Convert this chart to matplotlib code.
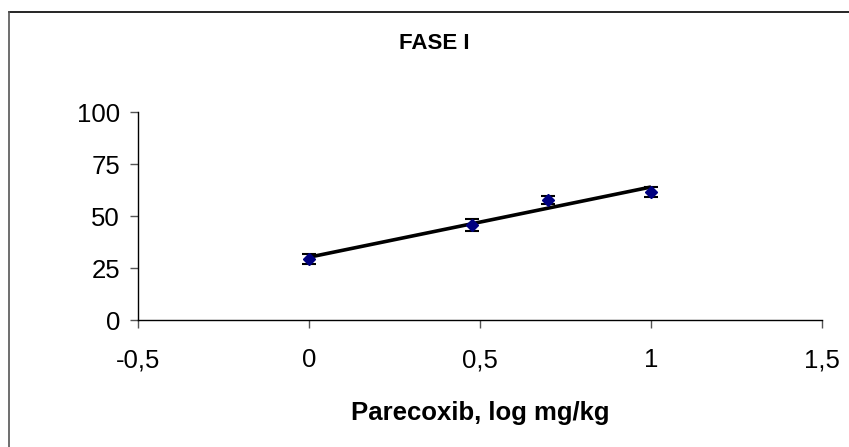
import numpy as np
import matplotlib
matplotlib.use("Agg")
import matplotlib.pyplot as plt
from matplotlib.lines import Line2D

# Data
dose_log = [0.0, 0.477, 0.699, 1.0]
response = [29.5, 45.8, 57.8, 61.6]
response_err = [2.4, 2.9, 2.0, 2.4]
x_ticks = [-0.5, 0, 0.5, 1, 1.5]
x_tick_labels = ["-0,5", "0", "0,5", "1", "1,5"]
y_ticks = [0, 25, 50, 75, 100]
title = "FASE I"
x_label = "Parecoxib, log mg/kg"

regular = ["Liberation Sans", "DejaVu Sans"]

fig = plt.figure(figsize=(8.49, 4.47), dpi=100)
ax = fig.add_axes([0.1625, 0.283, 0.9682 - 0.1625, 0.4664])

# trend line (least squares)
slope, intercept = np.polyfit(dose_log, response, 1)
xs = np.array([min(dose_log), max(dose_log)])
ax.plot(xs, slope * xs + intercept, color="black", lw=2.6, zorder=3, solid_capstyle="butt")

ax.errorbar(dose_log, response, yerr=response_err, fmt="none", ecolor="black",
            elinewidth=1.3, capsize=5, capthick=1.5, zorder=2)
ax.plot(dose_log, response, linestyle="none", marker="D", markersize=6.5,
        color="#000080", markeredgecolor="#000080", zorder=4)

ax.set_xlim(-0.5, 1.5)
ax.set_ylim(0, 100)
ax.set_xticks(x_ticks)
ax.set_xticklabels(x_tick_labels, family=regular, fontsize=18.5)
ax.set_yticks(y_ticks)
ax.set_yticklabels([str(v) for v in y_ticks], family=regular, fontsize=18.5)
ax.tick_params(axis="both", direction="out", length=6, width=1, color="#555555")
ax.tick_params(axis="x", pad=14)
ax.tick_params(axis="y", pad=7)

for s in ["top", "right"]:
    ax.spines[s].set_visible(False)
ax.spines["left"].set_color("black")
ax.spines["bottom"].set_color("black")
ax.spines["left"].set_linewidth(1)
ax.spines["bottom"].set_linewidth(1)

ax.set_xlabel(x_label, family=regular, fontsize=18.5, fontweight="bold", labelpad=21)
fig.text(0.512, 0.903, title, ha="center", va="center", family=regular,
         fontsize=16, fontweight="bold")

# outer chart border (top and left visible; right/bottom cropped)
fig.add_artist(Line2D([9 / 849, 1.0], [1 - 12 / 447, 1 - 12 / 447],
                      transform=fig.transFigure, color="black", lw=1.2))
fig.add_artist(Line2D([9 / 849, 9 / 849], [0.0, 1 - 12 / 447],
                      transform=fig.transFigure, color="#555555", lw=1.2))

fig.savefig("out.png", dpi=100)
